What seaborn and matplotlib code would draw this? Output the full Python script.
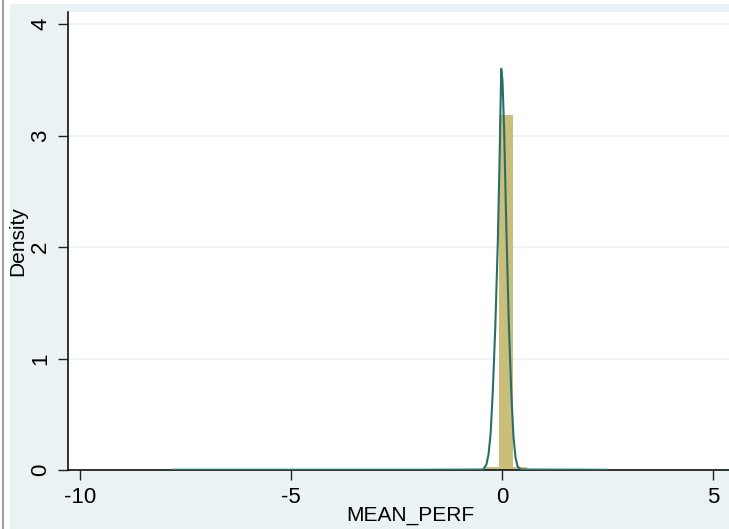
import numpy as np
import pandas as pd
import seaborn as sns
import matplotlib.pyplot as plt
from matplotlib.patches import Rectangle

# histogram bins (left edge, right edge) and density heights
bin_lo = [-7.8, -6.5, -3.5, -2.0, -1.0, -0.4, -0.07, 0.27, 0.6, 1.5, 2.2]
bin_hi = [-7.47, -6.17, -3.17, -1.67, -0.67, -0.07, 0.27, 0.6, 0.93, 1.83, 2.53]
bin_density = [0.004, 0.003, 0.004, 0.005, 0.006, 0.03, 3.19, 0.03, 0.006, 0.004, 0.004]

# kernel density curve
kde_x = [-7.8, -2.0, -0.45, -0.37, -0.32, -0.27, -0.22, -0.16, -0.1, -0.05, -0.02,
         0.01, 0.05, 0.1, 0.16, 0.22, 0.27, 0.32, 0.37, 0.45, 2.5]
kde_y = [0.002, 0.002, 0.004, 0.05, 0.14, 0.33, 0.70, 1.28, 2.05, 2.95, 3.60,
         3.50, 3.05, 2.20, 1.32, 0.68, 0.30, 0.11, 0.03, 0.004, 0.002]

sns.set_theme(style="white")
plt.rcParams['font.family'] = ['Liberation Sans', 'DejaVu Sans']

bg = "#eaf2f3"
fig = plt.figure(figsize=(7.29, 5.29), dpi=100, facecolor="white")
fig.add_artist(Rectangle((10 / 729, 0), 1, 1 - 4 / 529, transform=fig.transFigure,
                         facecolor=bg, edgecolor="none", zorder=-10))
fig.add_artist(plt.Line2D([3 / 729, 3 / 729], [0, 1], transform=fig.transFigure,
                          color="#a0a0a0", lw=1.5, zorder=-5))

ax = fig.add_axes([68 / 729, 59 / 529, 684 / 729, 458 / 529])
ax.set_facecolor("white")

centers = [(a + b) / 2 for a, b in zip(bin_lo, bin_hi)]
edges = sorted(set(bin_lo + bin_hi))
sns.histplot(x=centers, weights=bin_density, bins=edges, stat="count", ax=ax,
             color="#c9bf7b", edgecolor="none", alpha=1, zorder=2)
sns.lineplot(x=kde_x, y=kde_y, ax=ax, color="#2b6e69", lw=1.5, sort=False, zorder=3)

ax.set_xlim(-10.28, 5.92)
ax.set_ylim(0, 4.11)
ax.set_xticks([-10, -5, 0, 5])
ax.set_xticklabels(["-10", "-5", "0", "5"])
ax.set_yticks([0, 1, 2, 3, 4])
ax.set_yticklabels(["0", "1", "2", "3", "4"], rotation=90, va="center")
ax.grid(axis="y", color=bg, lw=1.2)
ax.set_axisbelow(True)
ax.tick_params(axis="both", which="both", direction="out", length=7, width=1,
               color="#222222", labelcolor="black", labelsize=16, pad=5,
               left=True, bottom=True)
for s in ["top", "right"]:
    ax.spines[s].set_visible(False)
for s in ["left", "bottom"]:
    ax.spines[s].set_color("#111111")
    ax.spines[s].set_linewidth(1.2)
ax.set_xlabel("MEAN_PERF", fontsize=15, color="black", labelpad=-1)
ax.set_ylabel("Density", fontsize=15, color="black", labelpad=2)

fig.savefig("out.png", dpi=100, facecolor=fig.get_facecolor())
